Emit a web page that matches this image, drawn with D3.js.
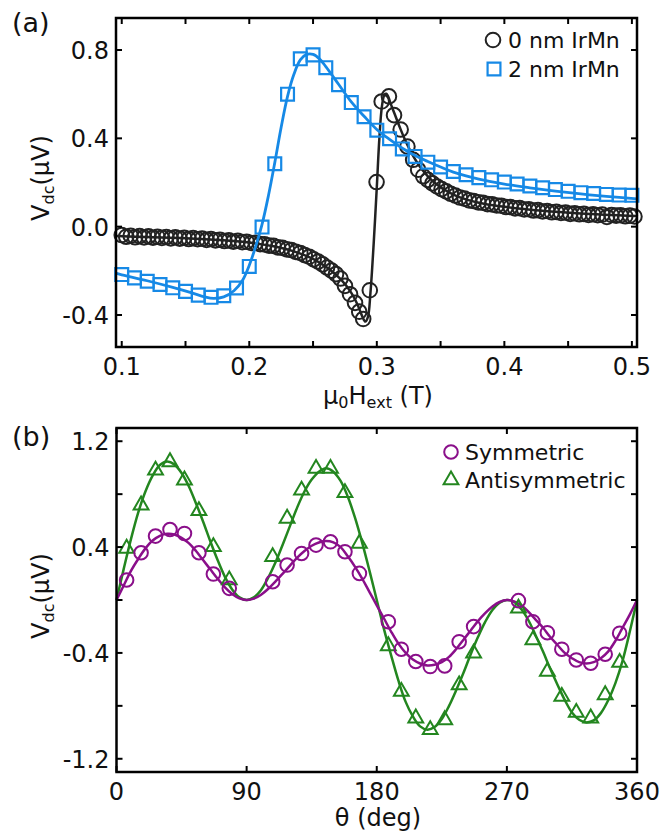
<!DOCTYPE html>
<html>
<head>
<meta charset="utf-8">
<script src="https://cdn.jsdelivr.net/npm/d3@7"></script>
<style>
  body { margin: 0; background: #fff; }
  svg text { font-family: "DejaVu Sans", sans-serif; fill: #111; }
</style>
</head>
<body>
<svg id="fig" width="661" height="832"></svg>
<script>
// ---------- Panel (a): field sweeps ----------
const field0nm = [
  0.1000,0.1035,0.1070,0.1105,0.1140,0.1175,0.1210,0.1245,0.1280,0.1315,0.1350,0.1385,0.1420,0.1455,0.1490,0.1525,0.1560,0.1595,0.1630,0.1665,
  0.1700,0.1735,0.1770,0.1805,0.1840,0.1875,0.1910,0.1945,0.1980,0.2015,0.2050,0.2085,0.2120,0.2155,0.2190,0.2225,0.2260,0.2295,0.2330,0.2365,
  0.2400,0.2435,0.2470,0.2505,0.2540,0.2575,0.2610,0.2645,0.2680,0.2715,0.2750,0.2790,0.2829,0.2862,0.2893,
  0.2945,0.2998,0.3038,0.3095,0.3135,0.3187,0.3240,0.3285,0.3324,0.3364,
  0.3400,0.3436,0.3472,0.3508,0.3544,0.3580,0.3616,0.3652,0.3688,0.3724,0.3760,0.3796,0.3832,0.3868,0.3904,0.3940,0.3976,0.4012,0.4048,0.4084,
  0.4120,0.4156,0.4192,0.4228,0.4264,0.4300,0.4336,0.4372,0.4408,0.4444,0.4480,0.4516,0.4552,0.4588,0.4624,0.4660,0.4696,0.4732,0.4768,0.4804,
  0.4840,0.4876,0.4912,0.4948,0.4984,0.5020];
const vdc0nm = [
  -0.038,-0.046,-0.041,-0.048,-0.043,-0.049,-0.044,-0.050,-0.046,-0.051,-0.047,-0.053,-0.048,-0.054,-0.050,-0.056,-0.052,-0.057,-0.054,-0.060,
  -0.056,-0.062,-0.059,-0.065,-0.062,-0.068,-0.064,-0.070,-0.068,-0.074,-0.073,-0.079,-0.080,-0.086,-0.087,-0.094,-0.096,-0.103,-0.106,-0.114,
  -0.119,-0.129,-0.136,-0.148,-0.158,-0.171,-0.185,-0.199,-0.215,-0.235,-0.268,-0.306,-0.345,-0.385,-0.418,
  -0.288,0.202,0.567,0.590,0.505,0.440,0.363,0.303,0.258,0.228,
  0.212,0.196,0.182,0.170,0.160,0.149,0.141,0.132,0.127,0.119,0.116,0.110,0.108,0.102,0.101,0.096,0.095,0.089,0.089,0.083,
  0.084,0.078,0.079,0.073,0.075,0.069,0.071,0.065,0.067,0.062,0.064,0.058,0.061,0.056,0.058,0.053,0.056,0.052,0.055,0.044,
  0.053,0.050,0.052,0.047,0.050,0.046];

const fit0nmField = [0.096,0.120,0.150,0.180,0.200,0.220,0.235,0.250,0.262,0.272,0.280,0.285,0.2885,0.2910,0.2930,0.2950,0.2975,0.3000,0.3020,0.3040,
  0.3060,0.3075,0.3090,0.3110,0.3140,0.3180,0.3220,0.3280,0.3350,0.3450,0.3600,0.3800,0.4000,0.4300,0.4600,0.5040];
const fit0nmVdc = [-0.042,-0.047,-0.052,-0.062,-0.072,-0.090,-0.112,-0.146,-0.190,-0.240,-0.300,-0.355,-0.405,-0.430,-0.410,-0.300,-0.080,0.180,0.400,0.545,
  0.598,0.602,0.588,0.555,0.510,0.450,0.395,0.325,0.262,0.200,0.145,0.108,0.090,0.072,0.060,0.048];

const field2nm = [0.10,0.11,0.12,0.13,0.14,0.15,0.16,0.17,0.18,0.19,0.20,0.21,0.22,0.23,0.24,0.25,0.26,0.27,0.28,0.29,
  0.30,0.31,0.32,0.33,0.34,0.35,0.36,0.37,0.38,0.39,0.40,0.41,0.42,0.43,0.44,0.45,0.46,0.47,0.48,0.49,0.50];
const vdc2nm = [-0.217,-0.232,-0.247,-0.262,-0.277,-0.293,-0.310,-0.320,-0.313,-0.278,-0.180,-0.002,0.285,0.600,0.760,0.778,0.720,0.643,0.562,0.498,
  0.437,0.398,0.352,0.318,0.292,0.270,0.250,0.235,0.222,0.212,0.202,0.193,0.184,0.176,0.168,0.160,0.154,0.150,0.146,0.143,0.142];

const fit2nmField = [0.096,0.100,0.120,0.140,0.155,0.165,0.172,0.180,0.188,0.195,0.200,0.205,0.210,0.215,0.220,0.225,0.230,0.235,0.240,0.245,
  0.250,0.255,0.260,0.270,0.280,0.290,0.300,0.310,0.320,0.330,0.340,0.350,0.360,0.380,0.400,0.420,0.440,0.460,0.480,0.504];
const fit2nmVdc = [-0.212,-0.218,-0.245,-0.275,-0.300,-0.318,-0.325,-0.318,-0.290,-0.240,-0.175,-0.090,0.010,0.140,0.290,0.450,0.590,0.690,0.755,0.780,
  0.780,0.760,0.725,0.645,0.565,0.500,0.440,0.395,0.355,0.322,0.295,0.270,0.247,0.215,0.193,0.176,0.161,0.148,0.137,0.126];

const xTicksA = [0.1, 0.2, 0.3, 0.4, 0.5];
const xMinorTicksA = [0.15, 0.25, 0.35, 0.45];
const yTicksA = [-0.4, 0.0, 0.4, 0.8];
const legendA = ["0 nm IrMn", "2 nm IrMn"];

// ---------- Panel (b): angular dependence ----------
const theta = [7,17,27,37,47,57,67,78,108,118,128,138,148,158,168,188,197,207,217,227,237,247,278,288,298,308,318,328,338,348];
const symVdc = [0.151,0.357,0.483,0.533,0.503,0.357,0.196,0.088,0.138,0.264,0.352,0.415,0.440,0.365,0.201,
  -0.164,-0.372,-0.465,-0.503,-0.498,-0.315,-0.201,-0.005,-0.164,-0.247,-0.372,-0.453,-0.478,-0.410,-0.251];
const antiVdc = [0.390,0.717,0.981,1.044,0.906,0.674,0.402,0.151,0.327,0.617,0.830,0.994,0.994,0.810,0.428,
  -0.347,-0.692,-0.893,-0.981,-0.906,-0.642,-0.403,-0.063,-0.302,-0.541,-0.730,-0.850,-0.893,-0.717,-0.473];

const thetaFit = [0,5,10,15,20,25,30,35,40,45,50,55,60,65,70,75,80,85,90,95,100,105,110,115,120,125,130,135,140,145,150,155,160,165,170,175,180,
  185,190,195,200,205,210,215,220,225,230,235,240,245,250,255,260,265,270,275,280,285,290,295,300,305,310,315,320,325,330,335,340,345,350,355,360];
const symFit = [0.000,0.110,0.220,0.310,0.390,0.450,0.485,0.500,0.495,0.470,0.430,0.370,0.300,0.230,0.160,0.095,0.045,0.012,0.000,0.010,0.040,0.085,0.140,0.200,0.260,0.320,0.370,0.410,0.435,0.445,0.435,0.400,0.330,0.250,0.160,0.060,-0.040,
  -0.140,-0.240,-0.330,-0.400,-0.450,-0.480,-0.495,-0.490,-0.470,-0.430,-0.370,-0.300,-0.230,-0.160,-0.100,-0.050,-0.015,0.000,-0.010,-0.040,-0.090,-0.150,-0.210,-0.280,-0.340,-0.400,-0.440,-0.470,-0.480,-0.470,-0.440,-0.390,-0.310,-0.210,-0.110,0.000];
const antiFit = [0.000,0.235,0.460,0.660,0.820,0.940,1.020,1.047,1.025,0.960,0.860,0.730,0.590,0.440,0.300,0.175,0.080,0.020,0.000,0.020,0.076,0.170,0.285,0.420,0.560,0.700,0.820,0.910,0.970,0.995,0.970,0.900,0.780,0.620,0.430,0.220,0.000,
  -0.220,-0.420,-0.610,-0.770,-0.880,-0.955,-0.980,-0.960,-0.900,-0.800,-0.680,-0.550,-0.410,-0.280,-0.165,-0.075,-0.020,0.000,-0.015,-0.070,-0.155,-0.270,-0.390,-0.520,-0.640,-0.755,-0.850,-0.905,-0.925,-0.910,-0.855,-0.760,-0.630,-0.460,-0.240,0.000];

const xTicksB = [0, 90, 180, 270, 360];
const yTicksB = [-1.2, -0.8, -0.4, 0.0, 0.4, 0.8, 1.2];
const yLabelsB = [-1.2, -0.4, 0.4, 1.2];
const legendB = ["Symmetric", "Antisymmetric"];

// ---------- styling ----------
const C_BLACK = "#222222", C_BLUE = "#1689e6", C_PURPLE = "#8a0f8a", C_GREEN = "#23861f";
const TICK_FONT = 24, LEGEND_FONT = 22;

const svg = d3.select("#fig");

function frame(g, x, y, xMajor, xMinor, yMajor, yLabels, xFmt, yFmt) {
  const [x0, x1] = x.range(), [y0, y1] = y.range();
  const T = 6;
  // ticks on all four sides, pointing inward
  const allX = xMajor.concat(xMinor);
  g.selectAll(null).data(allX).join("line")
    .attr("x1", d => x(d)).attr("x2", d => x(d)).attr("y1", y0).attr("y2", y0 - T)
    .attr("stroke", "#000").attr("stroke-width", 2);
  g.selectAll(null).data(allX).join("line")
    .attr("x1", d => x(d)).attr("x2", d => x(d)).attr("y1", y1).attr("y2", y1 + T)
    .attr("stroke", "#000").attr("stroke-width", 2);
  g.selectAll(null).data(yMajor).join("line")
    .attr("x1", x0).attr("x2", x0 + T).attr("y1", d => y(d)).attr("y2", d => y(d))
    .attr("stroke", "#000").attr("stroke-width", 2);
  g.selectAll(null).data(yMajor).join("line")
    .attr("x1", x1).attr("x2", x1 - T).attr("y1", d => y(d)).attr("y2", d => y(d))
    .attr("stroke", "#000").attr("stroke-width", 2);
  g.append("rect").attr("x", x0).attr("y", y1).attr("width", x1 - x0).attr("height", y0 - y1)
    .attr("fill", "none").attr("stroke", "#000").attr("stroke-width", 2.5);
  g.selectAll(null).data(xMajor).join("text")
    .attr("x", d => x(d)).attr("y", y0 + 28).attr("text-anchor", "middle")
    .attr("font-size", TICK_FONT).text(xFmt);
  g.selectAll(null).data(yLabels).join("text")
    .attr("x", x0 - 7).attr("y", d => y(d) + 9).attr("text-anchor", "end")
    .attr("font-size", TICK_FONT).text(yFmt);
}

function yTitle(g, cx, cy) {
  const t = g.append("text").attr("transform", `translate(${cx},${cy}) rotate(-90)`)
    .attr("text-anchor", "middle").attr("font-size", TICK_FONT);
  t.append("tspan").text("V");
  t.append("tspan").attr("font-size", 16).attr("dy", 5).text("dc");
  t.append("tspan").attr("dy", -5).text("(\u03bcV)");
}

// ---------- Panel (a) ----------
const gA = svg.append("g");
const xA = d3.scaleLinear().domain([0.0955, 0.504]).range([116, 637]);
const yA = d3.scaleLinear().domain([-0.545, 0.945]).range([347, 18]);

const lineA = d3.line().curve(d3.curveCatmullRom.alpha(0.5));

gA.append("path")
  .attr("d", lineA(fit0nmField.map((h, i) => [xA(h), yA(fit0nmVdc[i])])))
  .attr("fill", "none").attr("stroke", C_BLACK).attr("stroke-width", 2.5);

gA.selectAll(null).data(field0nm.map((h, i) => [h, vdc0nm[i]])).join("circle")
  .attr("cx", d => xA(d[0])).attr("cy", d => yA(d[1])).attr("r", 7.3)
  .attr("fill", "none").attr("stroke", C_BLACK).attr("stroke-width", 2);

gA.append("path")
  .attr("d", lineA(fit2nmField.map((h, i) => [xA(h), yA(fit2nmVdc[i])])))
  .attr("fill", "none").attr("stroke", C_BLUE).attr("stroke-width", 2.8);

const sq = d3.symbol().type(d3.symbolSquare).size(165);
gA.selectAll(null).data(field2nm.map((h, i) => [h, vdc2nm[i]])).join("path")
  .attr("d", sq).attr("transform", d => `translate(${xA(d[0])},${yA(d[1])})`)
  .attr("fill", "none").attr("stroke", C_BLUE).attr("stroke-width", 2.2);

frame(gA, xA, yA, xTicksA, xMinorTicksA, yTicksA, yTicksA, d => d.toFixed(1), d => d.toFixed(1));

// legend (a)
gA.append("circle").attr("cx", 493).attr("cy", 40).attr("r", 7.3)
  .attr("fill", "none").attr("stroke", C_BLACK).attr("stroke-width", 2);
gA.append("path").attr("d", sq).attr("transform", "translate(494,69)")
  .attr("fill", "none").attr("stroke", C_BLUE).attr("stroke-width", 2.2);
gA.selectAll(null).data(legendA).join("text")
  .attr("x", 508).attr("y", (d, i) => 48 + i * 29).attr("font-size", LEGEND_FONT).text(d => d);

// axis titles (a)
const xtA = gA.append("text").attr("x", 378).attr("y", 404).attr("text-anchor", "middle").attr("font-size", TICK_FONT);
xtA.append("tspan").text("\u03bc");
xtA.append("tspan").attr("font-size", 16).attr("dy", 4).text("0");
xtA.append("tspan").attr("dy", -4).text("H");
xtA.append("tspan").attr("font-size", 16).attr("dy", 4).text("ext");
xtA.append("tspan").attr("dy", -4).text(" (T)");
yTitle(gA, 49, 178);
gA.append("text").attr("x", 12).attr("y", 32).attr("font-size", 27).text("(a)");

// ---------- Panel (b) ----------
const gB = svg.append("g");
const xB = d3.scaleLinear().domain([0, 360]).range([116.5, 637]);
const yB = d3.scaleLinear().domain([-1.3, 1.3]).range([772, 428]);

const lineB = d3.line().curve(d3.curveCatmullRom.alpha(0.5));

gB.append("path")
  .attr("d", lineB(thetaFit.map((t, i) => [xB(t), yB(antiFit[i])])))
  .attr("fill", "none").attr("stroke", C_GREEN).attr("stroke-width", 2.5);
gB.append("path")
  .attr("d", lineB(thetaFit.map((t, i) => [xB(t), yB(symFit[i])])))
  .attr("fill", "none").attr("stroke", C_PURPLE).attr("stroke-width", 2.5);

const tri = d3.symbol().type(d3.symbolTriangle).size(95);
gB.selectAll(null).data(theta.map((t, i) => [t, antiVdc[i]])).join("path")
  .attr("d", tri).attr("transform", d => `translate(${xB(d[0])},${yB(d[1])})`)
  .attr("fill", "none").attr("stroke", C_GREEN).attr("stroke-width", 2);
gB.selectAll(null).data(theta.map((t, i) => [t, symVdc[i]])).join("circle")
  .attr("cx", d => xB(d[0])).attr("cy", d => yB(d[1])).attr("r", 6.8)
  .attr("fill", "none").attr("stroke", C_PURPLE).attr("stroke-width", 2);

frame(gB, xB, yB, xTicksB, [], yTicksB, yLabelsB, d => String(d), d => d.toFixed(1));

// legend (b)
gB.append("circle").attr("cx", 451).attr("cy", 452).attr("r", 6.8)
  .attr("fill", "none").attr("stroke", C_PURPLE).attr("stroke-width", 2);
gB.append("path").attr("d", tri).attr("transform", "translate(451,480)")
  .attr("fill", "none").attr("stroke", C_GREEN).attr("stroke-width", 2);
gB.selectAll(null).data(legendB).join("text")
  .attr("x", 465).attr("y", (d, i) => 460 + i * 28).attr("font-size", LEGEND_FONT).text(d => d);

gB.append("text").attr("x", 378).attr("y", 826).attr("text-anchor", "middle")
  .attr("font-size", TICK_FONT).text("\u03b8 (deg)");
yTitle(gB, 49, 596);
gB.append("text").attr("x", 12).attr("y", 446).attr("font-size", 27).text("(b)");
</script>
</body>
</html>
